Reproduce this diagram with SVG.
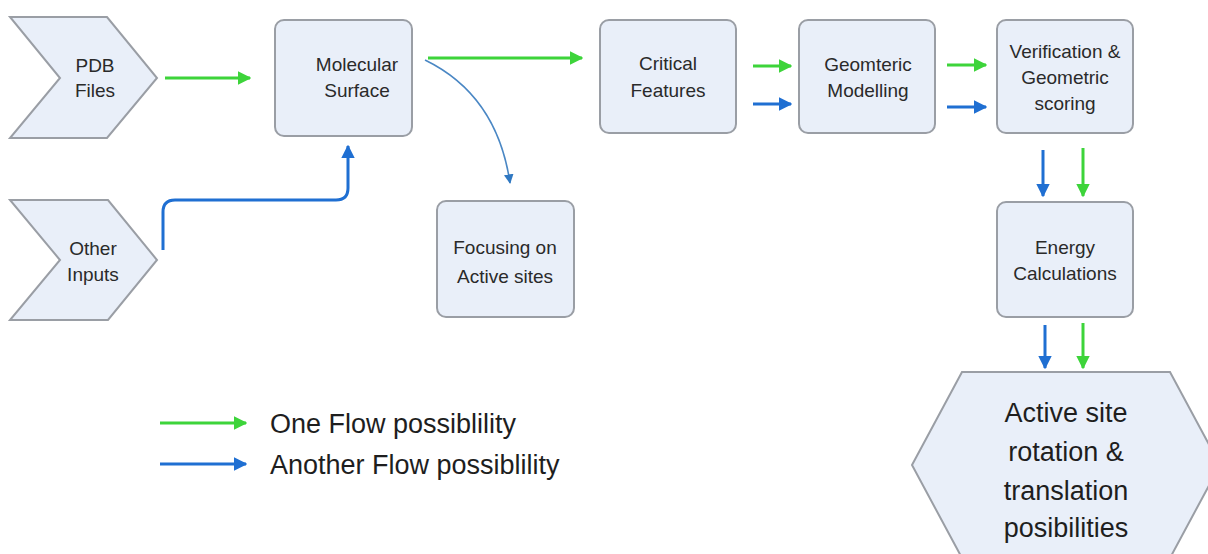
<svg xmlns="http://www.w3.org/2000/svg" width="1208" height="554" viewBox="0 0 1208 554">
<style>
.node{fill:#e9eff9;stroke:#9a9ea5;stroke-width:2}
.t{font-family:"Liberation Sans",Arial,sans-serif;font-size:19px;fill:#2a2a2a;text-anchor:middle}
.big{font-family:"Liberation Sans",Arial,sans-serif;font-size:27px;fill:#1e1e1e;text-anchor:middle}
.leg{font-family:"Liberation Sans",Arial,sans-serif;font-size:27px;fill:#1e1e1e}
.g{stroke:#3dd43a;stroke-width:3;fill:none;marker-end:url(#ag)}
.b{stroke:#1f6fd2;stroke-width:3;fill:none;marker-end:url(#ab)}
.bl{stroke:#4a87c4;stroke-width:1.6;fill:none;marker-end:url(#ab2)}
</style>
<defs>
<marker id="ag" viewBox="0 0 10 10" refX="9" refY="5" markerWidth="4.5" markerHeight="4.5" orient="auto" markerUnits="strokeWidth"><path d="M0,0 L10,5 L0,10 z" fill="#3dd43a"/></marker>
<marker id="ab" viewBox="0 0 10 10" refX="9" refY="5" markerWidth="4.5" markerHeight="4.5" orient="auto" markerUnits="strokeWidth"><path d="M0,0 L10,5 L0,10 z" fill="#1f6fd2"/></marker>
<marker id="ab2" viewBox="0 0 10 10" refX="9" refY="5" markerWidth="6" markerHeight="6" orient="auto" markerUnits="strokeWidth"><path d="M0,0 L10,5 L0,10 z" fill="#2f78c2"/></marker>
</defs>
<rect width="1208" height="554" fill="#ffffff"/>
<g id="pdb"><polygon class="node" points="10,17 107,17 157,78 107,138 10,138 60,78"/><text class="t" x="95" y="72">PDB</text><text class="t" x="95" y="97">Files</text></g>
<g id="other"><polygon class="node" points="10,200 108,200 157,260 108,320 10,320 60,260"/><text class="t" x="93" y="255">Other</text><text class="t" x="93" y="281">Inputs</text></g>
<g id="molecular"><rect class="node" x="275" y="20" width="137" height="116" rx="9"/><text class="t" x="357" y="71">Molecular</text><text class="t" x="357" y="97">Surface</text></g>
<g id="focusing"><rect class="node" x="437" y="201" width="137" height="116" rx="9"/><text class="t" x="505" y="254">Focusing on</text><text class="t" x="505" y="283">Active sites</text></g>
<g id="critical"><rect class="node" x="600" y="20" width="136" height="113" rx="9"/><text class="t" x="668" y="70">Critical</text><text class="t" x="668" y="97">Features</text></g>
<g id="geometric"><rect class="node" x="799" y="20" width="136" height="113" rx="9"/><text class="t" x="868" y="71">Geomteric</text><text class="t" x="868" y="97">Modelling</text></g>
<g id="verification"><rect class="node" x="997" y="20" width="136" height="113" rx="9"/><text class="t" x="1065" y="58">Verification &amp;</text><text class="t" x="1065" y="84">Geometric</text><text class="t" x="1065" y="110">scoring</text></g>
<g id="energy"><rect class="node" x="997" y="202" width="136" height="115" rx="9"/><text class="t" x="1065" y="254">Energy</text><text class="t" x="1065" y="280">Calculations</text></g>
<g id="active"><polygon class="node" points="962,372 1170,372 1220,465 1170,558 962,558 912,465"/><text class="big" x="1066" y="422">Active site</text><text class="big" x="1066" y="461">rotation &amp;</text><text class="big" x="1066" y="500">translation</text><text class="big" x="1066" y="537">posibilities</text></g>
<g id="connectors">
<line class="g" x1="165" y1="78" x2="250" y2="78"/>
<path class="b" d="M163,250 V212 Q163,200 175,200 H336 Q348,200 348,188 V146"/>
<line class="g" x1="428" y1="58" x2="582" y2="58"/>
<path class="bl" d="M425,60 Q497,95 510,183"/>
<line class="g" x1="753" y1="66" x2="791" y2="66"/>
<line class="b" x1="753" y1="104" x2="791" y2="104"/>
<line class="g" x1="947" y1="65" x2="986" y2="65"/>
<line class="b" x1="947" y1="107" x2="986" y2="107"/>
<line class="b" x1="1043" y1="150" x2="1043" y2="196"/>
<line class="g" x1="1083" y1="148" x2="1083" y2="196"/>
<line class="b" x1="1045" y1="325" x2="1045" y2="368"/>
<line class="g" x1="1083" y1="323" x2="1083" y2="368"/>
</g>
<g id="legend">
<line class="g" x1="160" y1="423" x2="246" y2="423"/>
<line class="b" x1="160" y1="464" x2="246" y2="464"/>
<text class="leg" x="270" y="433">One Flow possiblility</text>
<text class="leg" x="270" y="474">Another Flow possiblility</text>
</g>
</svg>
